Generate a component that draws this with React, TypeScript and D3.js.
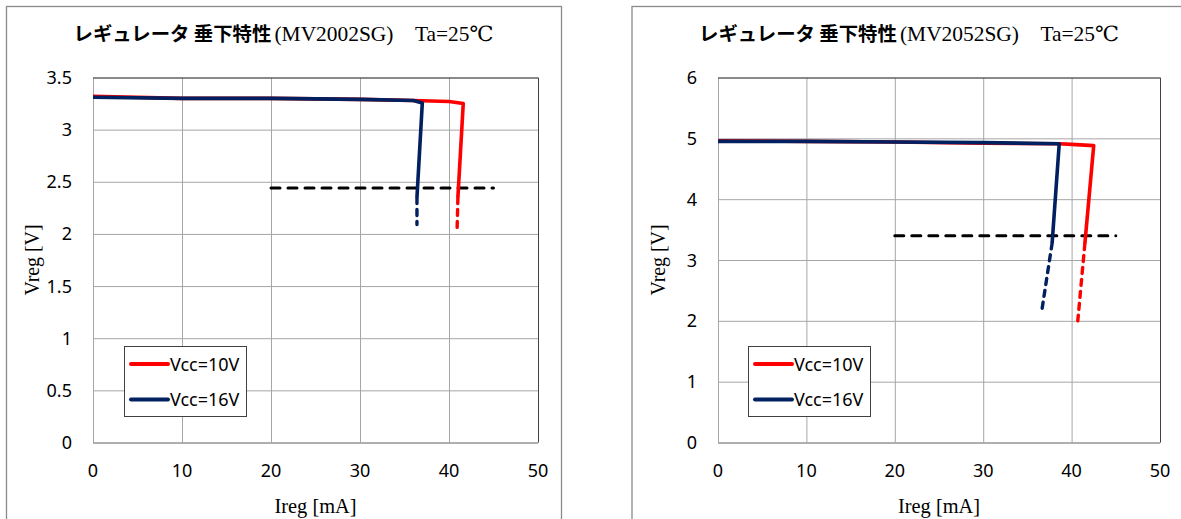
import React from "react";
import * as d3 from "d3";

// ---- data ----
const xTicks = [0, 10, 20, 30, 40, 50];
const yTicksA = [0, 0.5, 1, 1.5, 2, 2.5, 3, 3.5];
const yTicksB = [0, 1, 2, 3, 4, 5, 6];

const titleA = "(MV2002SG)\u3000Ta=25\u2103";
const titleB = "(MV2052SG)\u3000Ta=25\u2103";
const titleJa = "レギュレータ 垂下特性";
const seriesNames = ["Vcc=10V", "Vcc=16V"];

// chart A (MV2002SG)
const redA: [number, number][] = [[0, 3.32], [10, 3.3], [20, 3.3], [30, 3.29], [36, 3.28], [40, 3.27], [41.6, 3.25], [41.0, 2.35]];
const redATail: [number, number][] = [[41.0, 2.35], [40.9, 2.01]];
const blueA: [number, number][] = [[0, 3.31], [10, 3.3], [20, 3.3], [30, 3.29], [36, 3.28], [37.0, 3.255], [36.4, 2.35]];
const blueATail: [number, number][] = [[36.4, 2.35], [36.4, 2.09]];
const refA: [number, number][] = [[20, 2.44], [45, 2.44]];

// chart B (MV2052SG)
const redB: [number, number][] = [[0, 4.96], [10, 4.95], [20, 4.94], [30, 4.92], [38.6, 4.91], [40, 4.9], [42.5, 4.88], [41.95, 3.99], [41.5, 3.27]];
const redBTail: [number, number][] = [[41.5, 3.27], [40.7, 2.0]];
const blueB: [number, number][] = [[0, 4.95], [10, 4.95], [20, 4.94], [30, 4.93], [38.6, 4.91], [37.8, 3.28]];
const blueBTail: [number, number][] = [[37.8, 3.28], [36.6, 2.14]];
const refB: [number, number][] = [[20, 3.4], [45, 3.4]];

const RED = "#ff0000";
const NAVY = "#002060";
const TICKFONT = "'Noto Sans', 'Open Sans', sans-serif";
const SERIF = "'Liberation Serif', 'DejaVu Serif', serif";
const JA = "'Noto Sans CJK JP', sans-serif";

type Props = {
  ox: number; // frame left
  frameW: number;
  plot: { l: number; r: number; t: number; b: number };
  yMax: number;
  yTicks: number[];
  title: string;
  red: [number, number][];
  redTail: [number, number][];
  blue: [number, number][];
  blueTail: [number, number][];
  ref: [number, number][];
  legend: { x: number; y: number; w: number; h: number };
};

function Chart(p: Props) {
  const x = d3.scaleLinear().domain([0, 50]).range([p.plot.l, p.plot.r]);
  const y = d3.scaleLinear().domain([0, p.yMax]).range([p.plot.b, p.plot.t]);
  const line = d3.line<[number, number]>().x((d) => x(d[0])).y((d) => y(d[1]));
  const cx = p.ox + p.frameW / 2;
  const pcx = (p.plot.l + p.plot.r) / 2;
  const pcy = (p.plot.t + p.plot.b) / 2;
  const lg = p.legend;
  return (
    <g>
      <rect x={p.ox + 0.5} y={6.5} width={p.frameW} height={600} fill="#fff" stroke="#8a8a8a" strokeWidth={1.3} />
      <text x={cx} y={41} textAnchor="middle" fontSize={19} textLength={420} lengthAdjust="spacingAndGlyphs">
        <tspan fontFamily={JA} fontWeight="bold">{titleJa}</tspan>
        <tspan fontFamily={SERIF} fontSize={21} dx={3}>{p.title}</tspan>
      </text>
      {/* grid */}
      {xTicks.map((t) => (
        <line key={"gx" + t} x1={x(t) + 0.5} x2={x(t) + 0.5} y1={p.plot.t} y2={p.plot.b} stroke="#a6a6a6" strokeWidth={1} />
      ))}
      {p.yTicks.map((t) => (
        <line key={"gy" + t} x1={p.plot.l} x2={p.plot.r} y1={y(t) + 0.5} y2={y(t) + 0.5} stroke="#a6a6a6" strokeWidth={1} />
      ))}
      {/* plot border top/right */}
      <path d={`M${p.plot.l},${p.plot.t + 0.5}H${p.plot.r + 0.5}V${p.plot.b}`} fill="none" stroke="#404040" strokeWidth={1} />
      <line x1={p.plot.l} x2={p.plot.r} y1={p.plot.b + 0.5} y2={p.plot.b + 0.5} stroke="#8c8c8c" strokeWidth={1.2} />
      {/* tick labels */}
      {p.yTicks.map((t) => (
        <text key={"ty" + t} x={p.plot.l - 21} y={y(t) + 6.5} textAnchor="end" fontFamily={TICKFONT} fontSize={18} fill="#000">
          {String(t)}
        </text>
      ))}
      {xTicks.map((t) => (
        <text key={"tx" + t} x={x(t)} y={476.5} textAnchor="middle" fontFamily={TICKFONT} fontSize={18} fill="#000">
          {String(t)}
        </text>
      ))}
      {/* axis titles */}
      <text x={pcx} y={513} textAnchor="middle" fontFamily={SERIF} fontSize={20} textLength={82} lengthAdjust="spacingAndGlyphs">
        Ireg [mA]
      </text>
      <text
        transform={`translate(${p.ox + 26.5},${pcy}) rotate(-90)`}
        y={6.5}
        textAnchor="middle"
        fontFamily={SERIF}
        fontSize={20}
        textLength={71}
        lengthAdjust="spacingAndGlyphs"
      >
        Vreg [V]
      </text>
      {/* reference dashed line */}
      <path d={line(p.ref) || ""} fill="none" stroke="#000" strokeWidth={3} strokeDasharray="9,8" strokeLinecap="round" />
      {/* series */}
      <path d={line(p.red) || ""} fill="none" stroke={RED} strokeWidth={3.6} strokeLinejoin="round" />
      <path d={line(p.redTail) || ""} fill="none" stroke={RED} strokeWidth={3.4} strokeDasharray="6,6" strokeLinecap="round" />
      <path d={line(p.blue) || ""} fill="none" stroke={NAVY} strokeWidth={3.6} strokeLinejoin="round" />
      <path d={line(p.blueTail) || ""} fill="none" stroke={NAVY} strokeWidth={3.4} strokeDasharray="6,6" strokeLinecap="round" />
      {/* legend */}
      <rect x={lg.x + 0.5} y={lg.y + 0.5} width={lg.w} height={lg.h} fill="#fff" stroke="#404040" strokeWidth={1} />
      {[RED, NAVY].map((c, i) => (
        <g key={c}>
          <line x1={lg.x + 7} x2={lg.x + 44} y1={lg.y + 18 + i * 35.5} y2={lg.y + 18 + i * 35.5} stroke={c} strokeWidth={4} strokeLinecap="round" />
          <text x={lg.x + 46} y={lg.y + 24.5 + i * 35.5} fontFamily={TICKFONT} fontSize={18} fill="#000">
            {seriesNames[i]}
          </text>
        </g>
      ))}
    </g>
  );
}

export default function App() {
  return (
    <svg width={1181} height={519} style={{ position: "absolute", left: 0, top: 0, background: "#fff" }}>
      <rect x={0} y={0} width={1181} height={519} fill="#fff" />
      <Chart
        ox={6}
        frameW={555}
        plot={{ l: 93, r: 538, t: 77.5, b: 442.5 }}
        yMax={3.5}
        yTicks={yTicksA}
        title={titleA}
        red={redA}
        redTail={redATail}
        blue={blueA}
        blueTail={blueATail}
        ref={refA}
        legend={{ x: 124, y: 346, w: 122, h: 70 }}
      />
      <Chart
        ox={631.5}
        frameW={555}
        plot={{ l: 718, r: 1160, t: 77.5, b: 442.5 }}
        yMax={6}
        yTicks={yTicksB}
        title={titleB}
        red={redB}
        redTail={redBTail}
        blue={blueB}
        blueTail={blueBTail}
        ref={refB}
        legend={{ x: 748, y: 346, w: 122, h: 70 }}
      />
    </svg>
  );
}
